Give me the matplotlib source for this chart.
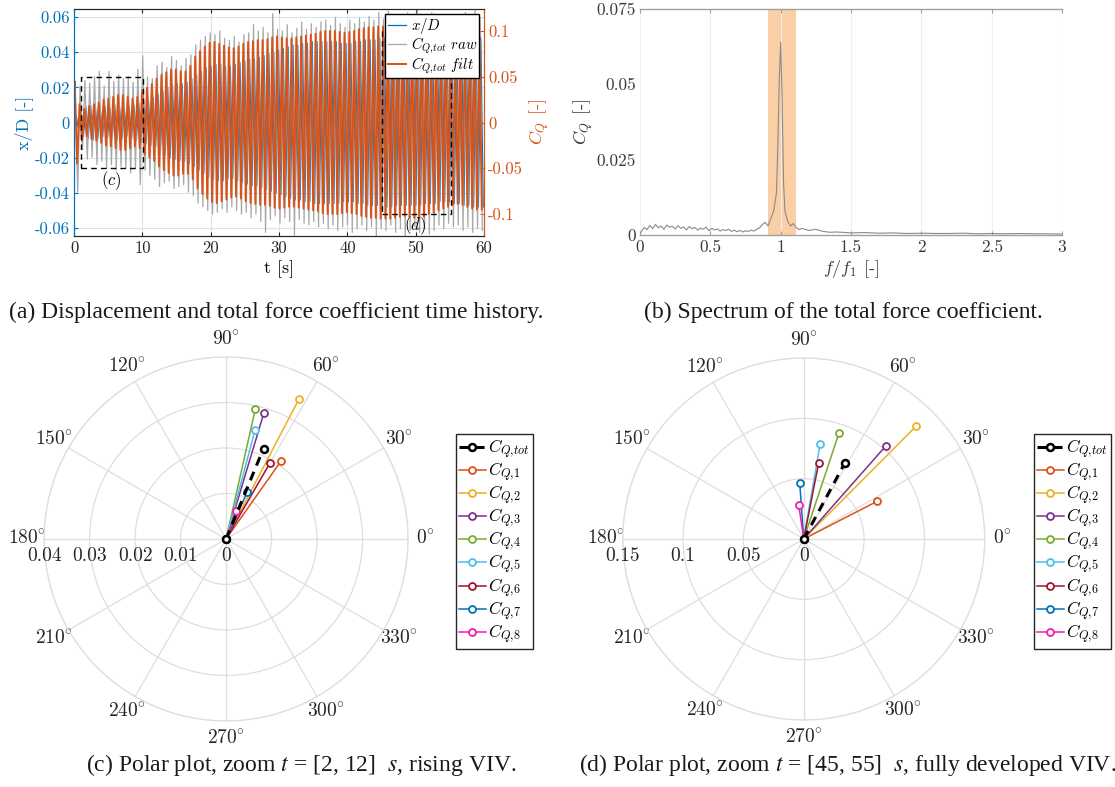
import numpy as np
import matplotlib
matplotlib.use("Agg")
import matplotlib.pyplot as plt
from matplotlib.patches import Rectangle

plt.rcParams["font.family"] = "serif"
plt.rcParams["font.serif"] = ["cmr10"]
plt.rcParams["mathtext.fontset"] = "cm"
plt.rcParams["axes.formatter.use_mathtext"] = True

# ---------------- data ----------------
# (a) time history, one value per oscillation cycle
period = 0.705      # oscillation period [s]
t_start = 0.1       # time of first peak [s]

# filtered total force coefficient, peak amplitude per cycle [-]
cq_filt = [0.045, 0.020, 0.015, 0.018, 0.020, 0.022, 0.025, 0.026, 0.028, 0.030,
           0.030, 0.028, 0.026, 0.028, 0.035, 0.038, 0.042, 0.048, 0.052, 0.055,
           0.058, 0.058, 0.056, 0.056, 0.062, 0.072, 0.078, 0.083, 0.087, 0.088,
           0.086, 0.084, 0.082, 0.081, 0.083, 0.086, 0.088, 0.089, 0.090, 0.090,
           0.091, 0.093, 0.094, 0.093, 0.092, 0.092, 0.093, 0.094, 0.095, 0.096,
           0.097, 0.099, 0.100, 0.100, 0.100, 0.099, 0.098, 0.099, 0.100, 0.102,
           0.103, 0.104, 0.104, 0.105, 0.105, 0.105, 0.104, 0.103, 0.102, 0.103,
           0.104, 0.104, 0.103, 0.100, 0.098, 0.096, 0.094, 0.092, 0.090, 0.089,
           0.090, 0.092, 0.094, 0.095, 0.095]

# raw total force coefficient, positive / negative peaks per cycle [-]
cq_raw_hi = [0.030, 0.040, 0.046, 0.043, 0.050, 0.056, 0.040, 0.056, 0.045, 0.052,
             0.048, 0.050, 0.044, 0.058, 0.073, 0.050, 0.048, 0.062, 0.066, 0.060,
             0.072, 0.068, 0.062, 0.070, 0.074, 0.085, 0.090, 0.094, 0.098, 0.096,
             0.100, 0.092, 0.090, 0.094, 0.088, 0.096, 0.098, 0.107, 0.100, 0.104,
             0.098, 0.119, 0.102, 0.100, 0.107, 0.098, 0.103, 0.110, 0.102, 0.108,
             0.104, 0.110, 0.112, 0.106, 0.115, 0.108, 0.104, 0.112, 0.108, 0.114,
             0.110, 0.116, 0.112, 0.120, 0.113, 0.122, 0.115, 0.118, 0.110, 0.120,
             0.114, 0.125, 0.118, 0.112, 0.120, 0.108, 0.112, 0.104, 0.110, 0.118,
             0.106, 0.120, 0.112, 0.124, 0.115]
cq_raw_lo = [0.076, 0.030, 0.040, 0.038, 0.046, 0.042, 0.050, 0.046, 0.052, 0.048,
             0.050, 0.055, 0.050, 0.068, 0.052, 0.058, 0.062, 0.070, 0.066, 0.064,
             0.072, 0.070, 0.068, 0.076, 0.080, 0.088, 0.092, 0.096, 0.100, 0.098,
             0.094, 0.098, 0.092, 0.096, 0.100, 0.098, 0.104, 0.100, 0.108, 0.120,
             0.106, 0.102, 0.110, 0.104, 0.108, 0.123, 0.106, 0.110, 0.112, 0.108,
             0.114, 0.110, 0.116, 0.112, 0.118, 0.114, 0.112, 0.120, 0.116, 0.112,
             0.118, 0.114, 0.124, 0.116, 0.118, 0.112, 0.120, 0.116, 0.124, 0.118,
             0.114, 0.120, 0.116, 0.122, 0.118, 0.112, 0.116, 0.110, 0.114, 0.112,
             0.118, 0.114, 0.120, 0.116, 0.118]

# cross-flow displacement amplitude per cycle [-]
xd_amp = [0.004, 0.008, 0.009, 0.010, 0.009, 0.008, 0.009, 0.008, 0.010, 0.009,
          0.008, 0.009, 0.010, 0.011, 0.012, 0.013, 0.014, 0.016, 0.018, 0.020,
          0.021, 0.022, 0.022, 0.023, 0.025, 0.027, 0.029, 0.031, 0.032, 0.033,
          0.033, 0.032, 0.032, 0.033, 0.034, 0.035, 0.036, 0.036, 0.037, 0.038,
          0.039, 0.040, 0.041, 0.042, 0.043, 0.044, 0.044, 0.045, 0.045, 0.046,
          0.046, 0.046, 0.046, 0.046, 0.046, 0.045, 0.045, 0.045, 0.046, 0.046,
          0.047, 0.047, 0.047, 0.048, 0.048, 0.048, 0.047, 0.047, 0.047, 0.047,
          0.047, 0.047, 0.046, 0.046, 0.046, 0.045, 0.045, 0.045, 0.046, 0.046,
          0.047, 0.047, 0.048, 0.048, 0.048]

# zoom windows [t0, t1, CQ half height]
win_c = [1.0, 10.1, 0.05]
win_d = [45.1, 55.2, 0.1]

# (b) spectrum
spec_f = [0.00, 0.03, 0.05, 0.07, 0.09, 0.11, 0.13, 0.15, 0.17, 0.19,
          0.21, 0.23, 0.25, 0.27, 0.29, 0.31, 0.33, 0.35, 0.37, 0.39,
          0.41, 0.43, 0.45, 0.47, 0.49, 0.51, 0.53, 0.55, 0.57, 0.59,
          0.61, 0.63, 0.65, 0.67, 0.69, 0.71, 0.73, 0.75, 0.77, 0.79,
          0.81, 0.83, 0.85, 0.87, 0.89, 0.91, 0.93, 0.95, 0.97,
          0.98, 0.99, 1.00, 1.01, 1.02, 1.03, 1.05, 1.07, 1.09, 1.11,
          1.13, 1.15, 1.20, 1.25, 1.30, 1.35, 1.40, 1.50, 1.60, 1.70,
          1.80, 1.90, 2.00, 2.10, 2.20, 2.30, 2.40, 2.50, 2.60, 2.70,
          2.80, 2.90, 3.00]
spec_cq = [0.0005, 0.0025, 0.0018, 0.0032, 0.0021, 0.0035, 0.0024, 0.0030, 0.0019, 0.0033,
           0.0026, 0.0029, 0.0020, 0.0031, 0.0022, 0.0027, 0.0017, 0.0028, 0.0021, 0.0025,
           0.0016, 0.0023, 0.0019, 0.0026, 0.0014, 0.0022, 0.0017, 0.0020, 0.0013, 0.0018,
           0.0015, 0.0019, 0.0012, 0.0016, 0.0011, 0.0015, 0.0010, 0.0014, 0.0012, 0.0016,
           0.0013, 0.0019, 0.0024, 0.0035, 0.0042, 0.0030, 0.0055, 0.0080, 0.0140,
           0.0300, 0.0520, 0.0640, 0.0450, 0.0180, 0.0080, 0.0045, 0.0030, 0.0038, 0.0025,
           0.0018, 0.0022, 0.0015, 0.0019, 0.0012, 0.0009, 0.0010, 0.0007, 0.0008, 0.0006,
           0.0007, 0.0005, 0.0006, 0.0005, 0.0005, 0.0006, 0.0004, 0.0005, 0.0004, 0.0005,
           0.0004, 0.0004, 0.0003]
band = [0.91, 1.11]

# (c), (d) polar: first entry is the total, then the 8 sections
names = [r"$C_{Q{,}tot}$"] + [r"$C_{Q{,}%d}$" % i for i in range(1, 9)]
theta_c = [67.5, 54.8, 62.5, 73.3, 77.3, 75.1, 60.0, 65.7, 70.3]
r_c = [0.0215, 0.0210, 0.0348, 0.0289, 0.0293, 0.0248, 0.0192, 0.0114, 0.0066]
theta_d = [61.6, 27.2, 45.1, 48.6, 71.6, 80.2, 78.9, 94.1, 98.4]
r_d = [0.0719, 0.0683, 0.1318, 0.1028, 0.0929, 0.0799, 0.0645, 0.0462, 0.0282]

sec_colors = ["#D95319", "#EDB120", "#7E2F8E", "#77AC30",
              "#4DBEEE", "#A2142F", "#0072BD", "#F01EAA"]
blue = "#0072BD"
orange = "#D95319"


def zigzag(t0, hi, lo):
    # join the per-cycle peaks into a polyline
    t = [0.0]
    y = [0.0]
    for k in range(len(hi)):
        tk = t0 + k * period
        t += [tk, tk + period / 2]
        y += [hi[k], -lo[k]]
    return t, y


fig = plt.figure(figsize=(11.15, 7.87), dpi=100)

# ---------------- (a) time history ----------------
ax1 = fig.add_axes([0.0664, 0.7001, 0.3677, 0.2884])
ax1r = ax1.twinx()

t_x, y_x = zigzag(t_start + 0.3 * period, xd_amp, xd_amp)
t_raw, y_raw = zigzag(t_start + 0.08, cq_raw_hi, cq_raw_lo)
t_flt, y_flt = zigzag(t_start, cq_filt, cq_filt)

l_x, = ax1.plot(t_x, y_x, color=blue, lw=0.9)
l_raw, = ax1r.plot(t_raw, y_raw, color="#a8a8a8", lw=0.9)
l_flt, = ax1r.plot(t_flt, y_flt, color=orange, lw=1.4)

for w in (win_c, win_d):
    ax1r.add_patch(Rectangle((w[0], -w[2]), w[1] - w[0], 2 * w[2], fill=False,
                             ls=(0, (4, 3)), lw=1.0, ec="k", zorder=5))
ax1r.text(5.4, -0.063, r"$(c)$", fontsize=12, ha="center", va="center")
ax1r.text(49.9, -0.113, r"$(d)$", fontsize=12, ha="center", va="center")

ax1.set_xlim(0, 60)
ax1.set_ylim(-0.0645, 0.0645)
ax1r.set_ylim(-0.124, 0.124)
ax1.set_xticks(range(0, 61, 10))
ax1.set_xticklabels([str(v) for v in range(0, 61, 10)])
left_ticks = [-0.06, -0.04, -0.02, 0, 0.02, 0.04, 0.06]
ax1.set_yticks(left_ticks)
ax1.set_yticklabels(["-0.06", "-0.04", "-0.02", "0", "0.02", "0.04", "0.06"])
right_ticks = [-0.1, -0.05, 0, 0.05, 0.1]
ax1r.set_yticks(right_ticks)
ax1r.set_yticklabels(["-0.1", "-0.05", "0", "0.05", "0.1"])

ax1.tick_params(axis="x", direction="in", top=True, labelsize=12, colors="#262626", length=3)
ax1.tick_params(axis="y", direction="in", labelsize=12, colors=blue, length=3, pad=3)
ax1r.tick_params(axis="y", direction="in", labelsize=12, colors=orange, length=3, pad=3)
ax1.xaxis.grid(True, color="#e2e2e2", lw=0.8)
ax1.yaxis.grid(True, color="#d3e5f3", lw=0.8)
ax1.set_axisbelow(True)

for a in (ax1, ax1r):
    a.spines["top"].set_color("#262626")
    a.spines["bottom"].set_color("#262626")
    a.spines["left"].set_color(blue)
    a.spines["right"].set_color(orange)

ax1.set_xlabel("t [s]", fontsize=13, labelpad=3)
ax1.set_ylabel("x/D [-]", fontsize=13, color=blue, labelpad=1)
ax1r.set_ylabel(r"$C_Q$ [-]", fontsize=13, color=orange, labelpad=3)

ax1r.legend([l_x, l_raw, l_flt],
            [r"$x/D$", r"$C_{Q{,}tot}\ raw$", r"$C_{Q{,}tot}\ filt$"],
            loc="upper right", bbox_to_anchor=(0.988, 0.98), fontsize=10.7,
            frameon=True, fancybox=False, edgecolor="k", framealpha=1,
            handlelength=1.25, handletextpad=0.3, labelspacing=0.0,
            borderpad=0.15, borderaxespad=0)

# ---------------- (b) spectrum ----------------
ax2 = fig.add_axes([0.574, 0.7014, 0.3785, 0.2872])
ax2.axvspan(band[0], band[1], color="#fbcfa6", lw=0)
ax2.plot(spec_f, spec_cq, color="#8a8a8a", lw=0.8)
ax2.set_xlim(0, 3)
ax2.set_ylim(0, 0.075)
ax2.set_xticks([0, 0.5, 1, 1.5, 2, 2.5, 3])
ax2.set_xticklabels(["0", "0.5", "1", "1.5", "2", "2.5", "3"])
ax2.set_yticks([0, 0.025, 0.05, 0.075])
ax2.set_yticklabels(["0", "0.025", "0.05", "0.075"])
ax2.xaxis.grid(True, color="#f0f0f0", lw=0.8)
for s in ("left", "right"):
    ax2.spines[s].set_visible(False)
for s in ("top", "bottom"):
    ax2.spines[s].set_color("#a0a0a0")
    ax2.spines[s].set_linewidth(1.0)
ax2.tick_params(axis="x", direction="in", top=True, length=3, colors="#a0a0a0",
                labelcolor="#3a3a3a", labelsize=12.5)
ax2.tick_params(axis="y", length=0, pad=3, labelcolor="#3a3a3a", labelsize=12.5)
ax2.set_xlabel(r"$f/f_1$ [-]", fontsize=13, color="#3a3a3a", labelpad=2)
ax2.set_ylabel(r"$C_Q$ [-]", fontsize=13, color="#3a3a3a", labelpad=1)


# ---------------- (c), (d) polar plots ----------------
def polar_panel(rect, rmax, rgrid, rlabels, theta, radius, legend_pos):
    ax = fig.add_axes(rect, projection="polar")
    ax.set_ylim(0, rmax)
    ax.set_yticks(rgrid)
    ax.set_yticklabels([])
    angles = list(range(0, 360, 30))
    ax.set_xticks(np.deg2rad(angles))
    ax.set_xticklabels([r"$%d\!^\circ$" % a for a in angles], fontsize=14, color="#262626")
    ax.tick_params(axis="x", pad=2)
    ax.grid(True, color="#dedede", lw=0.9)
    ax.spines["polar"].set_color("#dedede")
    ax.spines["polar"].set_linewidth(0.9)

    for rv, lab in zip([0] + list(rgrid), rlabels):
        ax.annotate(lab, xy=(np.pi, rv), xytext=(0, -6), textcoords="offset points",
                    ha="center", va="top", fontsize=14, color="#262626")

    ax.plot([0, np.deg2rad(theta[0])], [0, radius[0]], color="k", ls=(0, (3, 2.2)),
            lw=2.2, marker="o", ms=5, mfc="white", mew=1.8, label=names[0], zorder=4)
    for i in range(8):
        ax.plot([0, np.deg2rad(theta[i + 1])], [0, radius[i + 1]], color=sec_colors[i],
                lw=1.1, marker="o", ms=5, mfc="white", mew=1.3, label=names[i + 1])

    ax.legend(loc="upper left", bbox_to_anchor=legend_pos, bbox_transform=fig.transFigure,
              fontsize=12.5, frameon=True, fancybox=False, edgecolor="#262626",
              framealpha=1, handlelength=1.5, handletextpad=0.15, labelspacing=0.0,
              borderpad=0.2, borderaxespad=0)
    return ax


polar_panel([0.0395, 0.0839, 0.3265, 0.4625], 0.04, [0.01, 0.02, 0.03, 0.04],
            ["0", "0.01", "0.02", "0.03", "0.04"], theta_c, r_c,
            (456 / 1115, 1 - 434 / 787))
polar_panel([0.5585, 0.0851, 0.3247, 0.46], 0.15, [0.05, 0.1, 0.15],
            ["0", "0.05", "0.1", "0.15"], theta_d, r_d,
            (1034 / 1115, 1 - 434 / 787))

# ---------------- captions ----------------
cap = dict(fontsize=17, family="Liberation Serif", math_fontfamily="stix",
           ha="center", va="center", color="#1a1a1a")
fig.text(276 / 1115, 1 - 312 / 787, "(a) Displacement and total force coefficient time history.", **cap)
fig.text(843 / 1115, 1 - 312 / 787, "(b) Spectrum of the total force coefficient.", **cap)
fig.text(301 / 1115, 1 - 765 / 787, r"(c) Polar plot, zoom $t$ = [2, 12]  $s$, rising VIV.", **cap)
fig.text(848 / 1115, 1 - 765 / 787, r"(d) Polar plot, zoom $t$ = [45, 55]  $s$, fully developed VIV.", **cap)

fig.savefig("out.png", dpi=100)
